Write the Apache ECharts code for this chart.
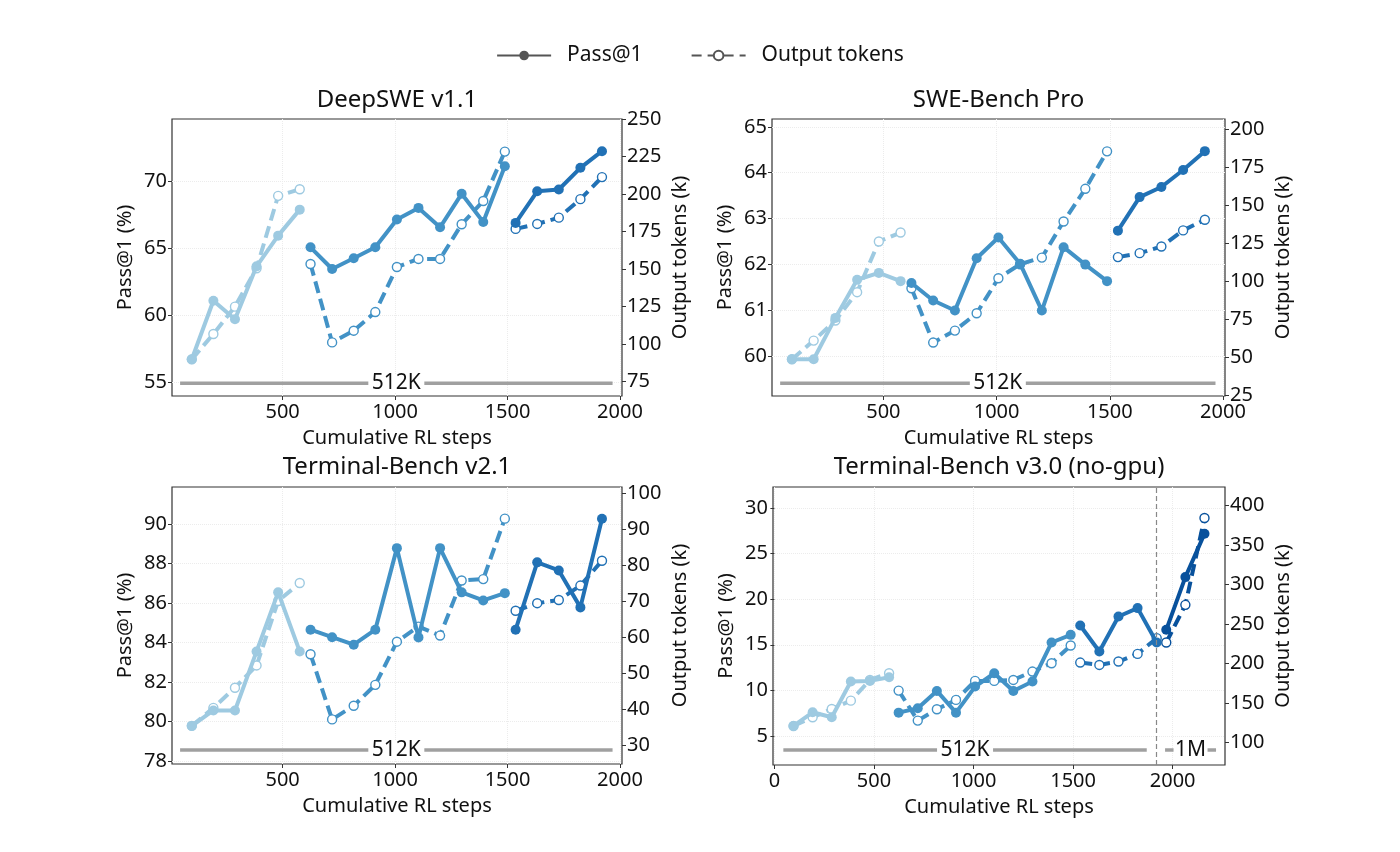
<!DOCTYPE html>
<html><head><meta charset="utf-8">
<script src="https://cdn.jsdelivr.net/npm/echarts@6/dist/echarts.min.js"></script>
<style>html,body{margin:0;padding:0;background:#fff}#c{width:1400px;height:852px}</style>
</head><body><div id="c"></div>
<script>
// ---------- data ----------
const titles = ["DeepSWE v1.1", "SWE-Bench Pro", "Terminal-Bench v2.1", "Terminal-Bench v3.0 (no-gpu)"];
const legendNames = ["Pass@1", "Output tokens"];
const xSteps1 = [96, 192, 288, 384, 480, 576];
const xSteps2 = [624, 720, 816, 912, 1008, 1104, 1200, 1296, 1392, 1488];
const xSteps3 = [1536, 1632, 1728, 1824, 1920];
const xSteps4 = [1968, 2064, 2160];

// DeepSWE v1.1
const dsPass1 = [56.74, 61.10, 59.73, 63.67, 65.96, 67.90];
const dsTok1  = [89.9, 106.8, 125.0, 150.6, 198.8, 203.2];
const dsPass2 = [65.09, 63.47, 64.27, 65.09, 67.16, 68.03, 66.58, 69.08, 66.98, 71.14];
const dsTok2  = [153.4, 101.2, 109.0, 121.4, 151.4, 156.8, 156.8, 179.9, 195.4, 228.3];
const dsPass3 = [66.91, 69.27, 69.40, 71.02, 72.26];
const dsTok3  = [176.8, 180.1, 184.3, 196.6, 211.3];
// SWE-Bench Pro
const spPass1 = [59.94, 59.94, 60.84, 61.67, 61.82, 61.64];
const spTok1  = [48.7, 61.0, 74.2, 92.9, 126.3, 132.2];
const spPass2 = [61.60, 61.22, 61.00, 62.14, 62.59, 62.02, 61.00, 62.38, 62.00, 61.64];
const spTok2  = [95.5, 59.7, 67.6, 79.0, 102.1, 111.3, 115.7, 139.5, 161.0, 185.7];
const spPass3 = [62.74, 63.47, 63.69, 64.06, 64.47];
const spTok3  = [116.0, 118.6, 123.0, 133.6, 140.6];
// Terminal-Bench v2.1
const t2Pass1 = [79.78, 80.56, 80.56, 83.55, 86.54, 83.55];
const t2Tok1  = [35.3, 40.3, 45.9, 52.1, 70.0, 75.0];
const t2Pass2 = [84.65, 84.27, 83.89, 84.65, 88.78, 84.26, 88.78, 86.54, 86.13, 86.50];
const t2Tok2  = [55.2, 37.1, 40.9, 46.7, 58.7, 62.9, 60.4, 75.7, 76.1, 92.9];
const t2Pass3 = [84.65, 88.06, 87.65, 85.78, 90.27];
const t2Tok3  = [67.3, 69.4, 70.3, 74.3, 81.2];
// Terminal-Bench v3.0 (no-gpu)
const t3Pass1 = [6.10, 7.60, 7.05, 10.97, 11.04, 11.44];
const t3Tok1  = [121.1, 132.1, 142.7, 153.2, 179.4, 187.9];
const t3Pass2 = [7.56, 8.04, 9.94, 7.56, 10.42, 11.88, 9.94, 10.97, 15.25, 16.09];
const t3Tok2  = [165.9, 127.9, 142.3, 154.1, 178.2, 178.2, 179.4, 190.0, 200.6, 223.0];
const t3Pass3 = [17.12, 14.26, 18.10, 19.02, 15.25];
const t3Tok3  = [201.4, 198.4, 202.7, 212.4, 232.3];
const t3Pass4 = [16.64, 22.42, 27.18];
const t3Tok4  = [226.8, 274.5, 384.4];

// axis ticks
const xTicksA = [500, 1000, 1500, 2000];
const xTicksB = [0, 500, 1000, 1500, 2000];
const dsLeftTicks = [55, 60, 65, 70];
const dsRightTicks = [75, 100, 125, 150, 175, 200, 225, 250];
const spLeftTicks = [60, 61, 62, 63, 64, 65];
const spRightTicks = [25, 50, 75, 100, 125, 150, 175, 200];
const t2LeftTicks = [78, 80, 82, 84, 86, 88, 90];
const t2RightTicks = [30, 40, 50, 60, 70, 80, 90, 100];
const t3LeftTicks = [5, 10, 15, 20, 25, 30];
const t3RightTicks = [100, 150, 200, 250, 300, 350, 400];

// context-window annotations
const bandLabels = ["512K", "1M"];
const band512Range = [44, 1967];
const band512RangeT3 = [45, 1870];
const band1MRangeT3 = [1962, 2218];
const bandLevels = [54.95, 59.42, 78.56, 3.46];
const switchStepT3 = 1920;

// ---------- layout / style ----------
const FONT = "Noto Sans";
const C1 = "#9ecae1", C2 = "#4292c6", C3 = "#2171b5", C4 = "#08519c";
const grids = [
  {left: 172, top: 119, width: 450, height: 277},
  {left: 772, top: 119, width: 453, height: 277},
  {left: 172, top: 487, width: 450, height: 277},
  {left: 773, top: 487, width: 452, height: 278}
];
const xRanges = [[8, 2009], [8, 2009], [8, 2009], [-7, 2263]];
const leftRanges = [[54.0, 74.66], [59.14, 65.17], [77.85, 91.875], [1.82, 32.3]];
const rightRanges = [[65.5, 250], [24.5, 207], [24.7, 101.7], [71.7, 423.7]];
const xTicks = [xTicksA, xTicksA, xTicksA, xTicksB];
const leftTicks = [dsLeftTicks, spLeftTicks, t2LeftTicks, t3LeftTicks];
const rightTicks = [dsRightTicks, spRightTicks, t2RightTicks, t3RightTicks];

const segs = [
  [[xSteps1, dsPass1, dsTok1, C1], [xSteps2, dsPass2, dsTok2, C2], [xSteps3, dsPass3, dsTok3, C3]],
  [[xSteps1, spPass1, spTok1, C1], [xSteps2, spPass2, spTok2, C2], [xSteps3, spPass3, spTok3, C3]],
  [[xSteps1, t2Pass1, t2Tok1, C1], [xSteps2, t2Pass2, t2Tok2, C2], [xSteps3, t2Pass3, t2Tok3, C3]],
  [[xSteps1, t3Pass1, t3Tok1, C1], [xSteps2, t3Pass2, t3Tok2, C2], [xSteps3, t3Pass3, t3Tok3, C3], [xSteps4, t3Pass4, t3Tok4, C4]]
];

const pairs = (xs, ys) => xs.map((x, i) => [x, ys[i]]);
const tickTxt = {fontFamily: FONT, color: "#111", fontSize: 20};
const nameTxt = {fontFamily: FONT, color: "#111", fontSize: 20};
const plain = v => String(v);

const xAxis = [], yAxis = [], series = [], title = [];
grids.forEach((g, i) => {
  title.push({text: titles[i], left: g.left + g.width / 2, textAlign: "center", top: i < 2 ? 88 : 455, padding: 0,
    textStyle: {fontFamily: FONT, fontSize: 24, fontWeight: "normal", color: "#111"}});
  xAxis.push({type: "value", gridIndex: i, min: xRanges[i][0], max: xRanges[i][1],
    name: "Cumulative RL steps", nameLocation: "middle", nameGap: 32, nameTextStyle: nameTxt,
    axisLine: {show: false}, axisTick: {show: true, length: 4, customValues: xTicks[i], lineStyle: {color: "#333"}},
    axisLabel: {customValues: xTicks[i], margin: 6, formatter: plain, ...tickTxt},
    splitLine: {show: true, lineStyle: {color: "#ececec", type: "dotted", width: 1}}});
  yAxis.push({type: "value", gridIndex: i, position: "left", min: leftRanges[i][0], max: leftRanges[i][1],
    name: "Pass@1 (%)", nameLocation: "middle", nameGap: 37, nameTextStyle: nameTxt,
    axisLine: {show: false}, axisTick: {show: true, length: 4, customValues: leftTicks[i], lineStyle: {color: "#333"}},
    axisLabel: {customValues: leftTicks[i], margin: 5, formatter: plain, ...tickTxt},
    splitLine: {show: true, lineStyle: {color: "#ececec", type: "dotted", width: 1}}});
  yAxis.push({type: "value", gridIndex: i, position: "right", min: rightRanges[i][0], max: rightRanges[i][1],
    name: "Output tokens (k)", nameLocation: "middle", nameGap: 48, nameTextStyle: nameTxt,
    axisLine: {show: false}, axisTick: {show: true, length: 4, customValues: rightTicks[i], lineStyle: {color: "#333"}},
    axisLabel: {customValues: rightTicks[i], margin: 5, formatter: plain, ...tickTxt},
    splitLine: {show: false}});
});

// annotation bands
function bandSeries(gi, range, level, label, labelW) {
  const mid = (range[0] + range[1]) / 2;
  return {type: "line", xAxisIndex: gi, yAxisIndex: 2 * gi, data: pairs(range, [level, level]),
    symbol: "none", silent: true, z: 1, lineStyle: {color: "#a0a0a0", width: 3.5},
    markPoint: {silent: true, symbol: "rect", symbolSize: [labelW, 18], itemStyle: {color: "#fff"},
      label: {show: true, position: "inside", formatter: label, fontFamily: FONT, fontSize: 21, color: "#111"},
      data: [{coord: [mid, level]}]}};
}
for (let i = 0; i < 3; i++) series.push(bandSeries(i, band512Range, bandLevels[i], bandLabels[0], 56));
series.push(bandSeries(3, band512RangeT3, bandLevels[3], bandLabels[0], 56));
series.push(bandSeries(3, band1MRangeT3, bandLevels[3], bandLabels[1], 34));
series.push({type: "line", xAxisIndex: 3, yAxisIndex: 6, data: [], silent: true,
  markLine: {silent: true, symbol: "none", label: {show: false},
    lineStyle: {color: "#888", type: [5, 3], width: 1.2}, data: [{xAxis: switchStepT3}]}});

// data series
segs.forEach((list, gi) => {
  list.forEach(([xs, pass, tok, col]) => {
    series.push({type: "line", name: "tok", xAxisIndex: gi, yAxisIndex: 2 * gi + 1, data: pairs(xs, tok), z: 3,
      symbol: "circle", symbolSize: 9, showSymbol: true,
      lineStyle: {color: col, width: 4, type: [12, 6]},
      itemStyle: {color: "#fff", borderColor: col, borderWidth: 1.4}});
    series.push({type: "line", name: "pass", xAxisIndex: gi, yAxisIndex: 2 * gi, data: pairs(xs, pass), z: 4,
      symbol: "circle", symbolSize: 10, showSymbol: true,
      lineStyle: {color: col, width: 4},
      itemStyle: {color: col}});
  });
});
// legend proxies
series.push({type: "line", name: legendNames[0], xAxisIndex: 0, yAxisIndex: 0, data: [],
  symbol: "circle", symbolSize: 7, lineStyle: {color: "#555", width: 3.5}, itemStyle: {color: "#555"}});
series.push({type: "line", name: legendNames[1], xAxisIndex: 0, yAxisIndex: 0, data: [],
  symbol: "circle", symbolSize: 7, lineStyle: {color: "#555", width: 3.5, type: [10, 6]},
  itemStyle: {color: "#fff", borderColor: "#555", borderWidth: 1.2}});

const chart = echarts.init(document.getElementById("c"), null, {renderer: "canvas"});
chart.setOption({
  animation: false,
  backgroundColor: "#fff",
  title,
  legend: {data: legendNames, top: 40, left: "center", itemWidth: 54, itemHeight: 12, itemGap: 48,
    textStyle: {fontFamily: FONT, fontSize: 21, color: "#111", padding: [0, 0, 0, 11]}},
  grid: grids.map(g => ({...g, show: true, borderColor: "#333", borderWidth: 1.2, backgroundColor: "transparent", containLabel: false})),
  xAxis, yAxis, series
});
</script></body></html>
